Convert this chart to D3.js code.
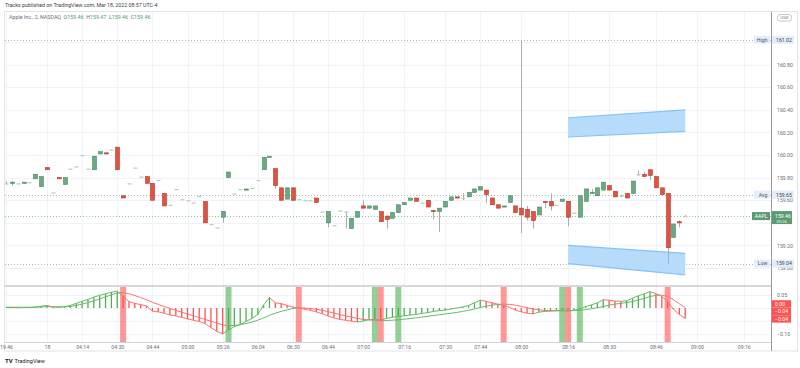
<!DOCTYPE html>
<html>
<head>
<meta charset="utf-8">
<script src="https://cdn.jsdelivr.net/npm/d3@7"></script>
<style>
body{margin:0;background:#fff;}
svg{display:block;font-family:Roboto,"Liberation Sans",sans-serif;}
.legend{white-space:pre;}
</style>
</head>
<body>
<script>
//candles, 2 minute bars, Mar 17 19:46 -> Mar 18 08:56
var opens  = [159.75,159.75,159.75,159.75,159.76,159.79,159.72,159.89,159.67,159.80,159.74,159.88,159.90,160.00,159.88,159.87,160.01,160.02,160.05,160.07,
              159.64,159.75,159.89,159.81,159.81,159.75,159.78,159.66,159.56,159.70,159.61,159.60,159.58,159.64,159.59,159.39,159.36,159.45,159.80,159.66,
              159.70,159.69,159.71,159.78,159.87,159.98,159.88,159.71,159.61,159.71,159.61,159.60,159.60,159.62,159.50,159.40,159.38,159.51,159.50,159.35,
              159.45,159.55,159.53,159.52,159.50,159.46,159.44,159.49,159.56,159.60,159.62,159.58,159.60,159.51,159.50,159.54,159.60,159.63,159.62,159.63,
              159.67,159.69,159.69,159.62,159.56,159.54,159.58,159.55,159.53,159.52,159.50,159.47,159.59,159.59,159.56,159.59,159.59,159.49,159.45,159.59,
              159.66,159.64,159.69,159.73,159.68,159.64,159.66,159.66,159.83,159.83,159.87,159.81,159.71,159.66,159.27,159.41,159.46];
var highs  = [159.77,159.77,159.75,159.76,159.76,159.83,159.81,159.89,159.67,159.80,159.80,159.88,159.90,160.00,159.88,159.99,160.03,160.02,160.05,160.07,
              159.64,159.75,159.89,159.81,159.81,159.75,159.78,159.66,159.56,159.70,159.61,159.60,159.58,159.64,159.59,159.39,159.36,159.50,159.85,159.66,
              159.70,159.70,159.71,159.78,159.98,159.99,159.88,159.71,159.71,159.71,159.61,159.60,159.60,159.62,159.50,159.50,159.38,159.51,159.50,159.44,
              159.50,159.60,159.55,159.55,159.50,159.46,159.49,159.56,159.58,159.62,159.62,159.58,159.60,159.51,159.53,159.59,159.63,159.63,159.66,159.67,
              159.70,159.72,159.69,159.62,159.56,159.55,159.64,159.55,161.02,159.55,159.50,159.54,159.59,159.66,159.56,159.61,159.59,159.49,159.64,159.70,
              159.70,159.71,159.76,159.73,159.68,159.65,159.66,159.77,159.86,159.85,159.87,159.81,159.71,159.66,159.39,159.42,159.47];
var lows   = [159.74,159.73,159.75,159.75,159.76,159.79,159.72,159.87,159.67,159.79,159.74,159.88,159.90,160.00,159.88,159.87,160.01,160.01,160.05,159.87,
              159.62,159.75,159.89,159.81,159.75,159.60,159.78,159.55,159.56,159.70,159.61,159.60,159.58,159.64,159.40,159.39,159.36,159.40,159.80,159.66,
              159.70,159.69,159.71,159.78,159.87,159.98,159.70,159.60,159.61,159.60,159.61,159.60,159.60,159.58,159.50,159.36,159.38,159.51,159.35,159.35,
              159.45,159.53,159.53,159.52,159.41,159.35,159.44,159.49,159.56,159.60,159.59,159.58,159.54,159.43,159.32,159.54,159.60,159.62,159.60,159.63,
              159.67,159.69,159.58,159.56,159.53,159.54,159.58,159.49,159.31,159.42,159.35,159.47,159.53,159.51,159.56,159.59,159.37,159.49,159.45,159.59,
              159.66,159.64,159.69,159.69,159.63,159.63,159.62,159.66,159.82,159.81,159.78,159.71,159.65,159.04,159.27,159.36,159.46];
var closes = [159.75,159.76,159.75,159.76,159.76,159.83,159.81,159.87,159.67,159.79,159.80,159.88,159.90,160.00,159.88,159.99,160.03,160.01,160.05,159.87,
              159.62,159.75,159.89,159.81,159.75,159.60,159.78,159.55,159.56,159.70,159.61,159.60,159.58,159.64,159.40,159.39,159.36,159.50,159.85,159.66,
              159.70,159.70,159.71,159.78,159.98,159.99,159.73,159.60,159.71,159.60,159.61,159.60,159.60,159.58,159.50,159.50,159.38,159.51,159.50,159.44,
              159.50,159.53,159.55,159.55,159.41,159.43,159.49,159.56,159.58,159.62,159.59,159.58,159.54,159.50,159.53,159.59,159.63,159.62,159.62,159.67,
              159.70,159.72,159.65,159.56,159.53,159.55,159.64,159.49,159.47,159.45,159.42,159.54,159.58,159.55,159.56,159.61,159.45,159.49,159.64,159.70,
              159.67,159.71,159.76,159.69,159.63,159.64,159.62,159.77,159.83,159.81,159.82,159.71,159.65,159.18,159.39,159.40,159.46];

//lower pane oscillator
var macd   = [0.002,0.002,0.001,0.002,0.002,0.004,0.007,0.010,0.004,0.003,0.005,0.010,0.018,0.026,0.033,0.042,0.049,0.055,0.061,0.065,
              0.045,0.025,0.018,0.013,0.008,-0.012,-0.015,-0.020,-0.027,-0.030,-0.036,-0.042,-0.047,-0.052,-0.060,-0.075,-0.090,-0.100,-0.085,-0.072,
              -0.064,-0.052,-0.040,-0.025,0.012,0.040,0.020,0.017,0.010,0.004,0.000,-0.005,-0.009,-0.015,-0.022,-0.031,-0.038,-0.044,-0.047,-0.051,
              -0.054,-0.050,-0.045,-0.044,-0.047,-0.040,-0.036,-0.032,-0.030,-0.027,-0.025,-0.021,-0.018,-0.013,-0.010,-0.008,-0.004,0.000,0.004,0.010,
              0.020,0.030,0.026,0.020,0.015,0.010,0.002,-0.008,-0.015,-0.020,-0.023,-0.016,-0.013,-0.012,-0.010,-0.008,-0.011,-0.009,-0.004,0.006,
              0.012,0.020,0.032,0.030,0.027,0.026,0.028,0.038,0.047,0.055,0.063,0.055,0.045,0.025,-0.005,-0.025,-0.040];
var signal = [0.003,0.003,0.003,0.003,0.003,0.003,0.004,0.005,0.005,0.005,0.005,0.006,0.010,0.015,0.021,0.028,0.035,0.043,0.051,0.058,
              0.060,0.055,0.048,0.040,0.032,0.022,0.014,0.006,-0.002,-0.009,-0.016,-0.023,-0.030,-0.037,-0.044,-0.051,-0.058,-0.065,-0.068,-0.067,
              -0.064,-0.060,-0.054,-0.047,-0.038,-0.028,-0.020,-0.013,-0.007,-0.002,0.001,0.000,-0.002,-0.005,-0.009,-0.014,-0.019,-0.025,-0.030,-0.035,
              -0.040,-0.044,-0.046,-0.047,-0.048,-0.048,-0.047,-0.045,-0.043,-0.041,-0.038,-0.035,-0.032,-0.029,-0.026,-0.023,-0.020,-0.017,-0.013,-0.009,
              -0.004,0.002,0.007,0.011,0.014,0.015,0.014,0.011,0.006,0.001,-0.004,-0.007,-0.009,-0.010,-0.011,-0.011,-0.011,-0.010,-0.009,-0.006,
              -0.003,0.001,0.006,0.011,0.015,0.018,0.021,0.025,0.031,0.037,0.044,0.049,0.050,0.044,0.032,0.016,0.002];

//signal bands in lower pane
var bandIdx  = [20, 38, 50, 63, 64, 67, 85, 95, 96, 98, 113];
var bandType = ["sell","buy","sell","buy","sell","buy","sell","buy","sell","buy","sell"];

//drawn channels (bar index -> price)
var chanIdx       = [96, 116];
var upperChanTop  = [160.33, 160.40];
var upperChanBot  = [160.16, 160.21];
var lowerChanTop  = [159.20, 159.13];
var lowerChanBot  = [159.04, 158.94];

//time axis
var tickIdx    = [0, 7, 13, 19, 25, 31, 37, 43, 49, 55, 61, 68, 75, 81, 88, 96, 103, 111, 118, 126];
var tickLabels = ["19:46","18","04:14","04:30","04:44","05:00","05:26","06:04","06:30","06:44","07:00","07:16","07:30","07:44","08:00","08:16","08:30","08:46","09:00","09:16"];

//price axis
var priceTicks = [159.00,159.20,159.40,159.60,159.80,160.00,160.20,160.40,160.60,160.80,161.00];
var oscTicks   = [-0.10,-0.05,0.00,0.05];
var levelNames  = ["High","Avg","Low"];
var levelValues = [161.02, 159.65, 159.04];
var lastPrice = 159.46;

drawChart();

function drawChart(){

    var width = 800,
        height = 368,
        left = 5,
        right = 771;

    var green = "#6aa983", greenDark = "#4a8a62",
        red = "#dd5344", redDark = "#b9392b",
        gridCol = "#f0f3fa", txt = "#6a6d78",
        fs = 5.2;

    var svg = d3.select("body")
        .append("svg")
        .attr("width", width)
        .attr("height", height);

    //scales
    var x = d3.scaleLinear().domain([0, 116]).range([6, 685.2]);
    var y = d3.scaleLinear().domain([158.85, 161.266]).range([285, 12]);
    var yM = d3.scaleLinear().domain([-0.131, 0.081]).range([342, 287]);
    var fmt = d3.format(".2f");

    //clips (in the local space of the group that uses them)
    var defs = svg.append("defs");
    defs.append("clipPath").attr("id", "mainClip")
        .append("rect").attr("x", left).attr("y", 12).attr("width", right - left).attr("height", 273);
    defs.append("clipPath").attr("id", "oscClip")
        .append("rect").attr("x", left).attr("y", 287).attr("width", right - left).attr("height", 55);
    defs.append("clipPath").attr("id", "axisClip")
        .append("rect").attr("x", 0).attr("y", 0).attr("width", right).attr("height", 9);

    //header
    svg.append("text")
        .attr("x", 5).attr("y", 7)
        .attr("font-size", 5.3).attr("fill", "#3b3e45")
        .text("Tracks published on TradingView.com, Mar 18, 2022 08:57 UTC-4");

    //frame
    svg.append("rect")
        .attr("x", 4.5).attr("y", 11.5).attr("width", 793).attr("height", 339.5)
        .attr("fill", "none").attr("stroke", "#e0e3eb");

    //grid
    var grid = svg.append("g");
    grid.selectAll(".vgrid")
        .data(tickIdx)
        .enter()
        .append("line")
        .attr("x1", function(d){ return Math.round(x(d)) + 0.5; })
        .attr("x2", function(d){ return Math.round(x(d)) + 0.5; })
        .attr("y1", 12).attr("y2", 342)
        .attr("stroke", gridCol);
    grid.selectAll(".hgrid")
        .data(priceTicks)
        .enter()
        .append("line")
        .attr("x1", left).attr("x2", right)
        .attr("y1", function(d){ return Math.round(y(d)) + 0.5; })
        .attr("y2", function(d){ return Math.round(y(d)) + 0.5; })
        .attr("stroke", gridCol);
    grid.selectAll(".ogrid")
        .data(oscTicks)
        .enter()
        .append("line")
        .attr("x1", left).attr("x2", right)
        .attr("y1", function(d){ return Math.round(yM(d)) + 0.5; })
        .attr("y2", function(d){ return Math.round(yM(d)) + 0.5; })
        .attr("stroke", gridCol);

    //legend
    var legend = svg.append("text")
        .attr("class", "legend")
        .attr("x", 9).attr("y", 19)
        .attr("font-size", 5.3).attr("fill", "#6a6d78");
    legend.append("tspan").text("Apple Inc., 2, NASDAQ  ");
    var ohlc = [["O", opens[116]], ["H", highs[116]], ["L", lows[116]], ["C", closes[116]]];
    ohlc.forEach(function(d){
        legend.append("tspan").text(d[0]);
        legend.append("tspan").attr("fill", "#4f9a6a").text(fmt(d[1]) + "  ");
    });

    //main pane
    var main = svg.append("g").attr("clip-path", "url(#mainClip)");

    //level lines (high / avg / low)
    main.selectAll(".level")
        .data(levelValues)
        .enter()
        .append("line")
        .attr("x1", left).attr("x2", right)
        .attr("y1", function(d){ return Math.round(y(d)) + 0.5; })
        .attr("y2", function(d){ return Math.round(y(d)) + 0.5; })
        .attr("stroke", "#b2b5be")
        .attr("stroke-dasharray", "1,2");

    //last price line
    main.append("line")
        .attr("x1", left).attr("x2", right)
        .attr("y1", Math.round(y(lastPrice)) + 0.5)
        .attr("y2", Math.round(y(lastPrice)) + 0.5)
        .attr("stroke", "#8fc4a3")
        .attr("stroke-dasharray", "1,2");

    //channels
    var chans = [[upperChanTop, upperChanBot], [lowerChanTop, lowerChanBot]];
    chans.forEach(function(c){
        var pts = [[x(chanIdx[0]), y(c[0][0])], [x(chanIdx[1]), y(c[0][1])],
                   [x(chanIdx[1]), y(c[1][1])], [x(chanIdx[0]), y(c[1][0])]];
        main.append("polygon")
            .attr("points", pts.map(function(p){ return p.join(","); }).join(" "))
            .attr("fill", "#b6dbfb")
            .attr("stroke", "none");
        [0, 1].forEach(function(k){
            main.append("line")
                .attr("x1", x(chanIdx[0])).attr("y1", y(c[k][0]))
                .attr("x2", x(chanIdx[1])).attr("y2", y(c[k][1]))
                .attr("stroke", "#86c2f5").attr("stroke-width", 1.2);
        });
    });

    //candles
    var bars = d3.range(opens.length);
    main.selectAll(".wick")
        .data(bars)
        .enter()
        .append("line")
        .attr("x1", function(i){ return Math.round(x(i)) + 0.5; })
        .attr("x2", function(i){ return Math.round(x(i)) + 0.5; })
        .attr("y1", function(i){ return y(highs[i]); })
        .attr("y2", function(i){ return y(lows[i]); })
        .attr("stroke", "#a9acb3");

    main.selectAll(".body")
        .data(bars)
        .enter()
        .append("rect")
        .attr("x", function(i){ return Math.round(x(i)) - 1.5; })
        .attr("width", 4)
        .attr("y", function(i){ return y(Math.max(opens[i], closes[i])); })
        .attr("height", function(i){ return Math.max(1.2, Math.abs(y(opens[i]) - y(closes[i]))); })
        .attr("fill", function(i){
            if (opens[i] === closes[i]) return "#b7cdbf";
            return closes[i] > opens[i] ? green : red;
        })
        .attr("stroke", function(i){
            if (opens[i] === closes[i]) return "none";
            return closes[i] > opens[i] ? greenDark : redDark;
        })
        .attr("stroke-width", 0.6);

    //pane separators
    svg.append("line")
        .attr("x1", left).attr("x2", right).attr("y1", 286).attr("y2", 286)
        .attr("stroke", "#c9cbd1").attr("stroke-width", 1.5);
    svg.append("line")
        .attr("x1", left).attr("x2", right).attr("y1", 342.5).attr("y2", 342.5)
        .attr("stroke", "#d1d4dc");

    //oscillator pane
    var osc = svg.append("g").attr("clip-path", "url(#oscClip)");

    osc.selectAll(".band")
        .data(bandIdx)
        .enter()
        .append("rect")
        .attr("x", function(d){ return x(d) - 3; })
        .attr("width", 6)
        .attr("y", 287).attr("height", 55)
        .attr("fill", function(d, i){ return bandType[i] === "buy" ? "rgba(76,175,80,0.6)" : "rgba(255,82,82,0.6)"; });

    osc.selectAll(".hist")
        .data(bars)
        .enter()
        .append("line")
        .attr("x1", function(i){ return x(i); })
        .attr("x2", function(i){ return x(i); })
        .attr("y1", yM(0))
        .attr("y2", function(i){ return yM(macd[i]); })
        .attr("stroke", function(i){ return (i === 0 || macd[i] >= macd[i - 1]) ? "#4caf50" : "#ff5252"; })
        .attr("stroke-width", 1.3);

    [macd, signal].forEach(function(s){
        osc.selectAll(null)
            .data(bars.slice(1))
            .enter()
            .append("line")
            .attr("x1", function(i){ return x(i - 1); })
            .attr("y1", function(i){ return yM(s[i - 1]); })
            .attr("x2", function(i){ return x(i); })
            .attr("y2", function(i){ return yM(s[i]); })
            .attr("stroke", function(i){ return s[i] >= s[i - 1] ? "#66bb6a" : "#ff7070"; })
            .attr("stroke-width", 1);
    });

    //time axis
    var xAxis = d3.axisBottom(x)
        .tickValues(tickIdx)
        .tickFormat(function(d, i){ return tickLabels[i]; })
        .tickSize(0)
        .tickPadding(3);
    var gx = svg.append("g")
        .attr("transform", "translate(0,342)")
        .attr("clip-path", "url(#axisClip)")
        .call(xAxis);
    gx.select(".domain").remove();
    gx.selectAll("text").attr("font-size", fs).attr("fill", txt).attr("font-family", "Roboto, sans-serif");

    //right price axis
    svg.append("line")
        .attr("x1", right + 0.5).attr("x2", right + 0.5).attr("y1", 12).attr("y2", 351)
        .attr("stroke", "#9598a1");

    //badge boxes on the scale, used to hide tick labels that sit under them
    var covers = [];
    levelValues.forEach(function(v){ covers.push([y(v) - 4, y(v) + 4]); });
    covers.push([y(lastPrice) - 6, y(lastPrice) + 9]);

    var yAxis = d3.axisRight(y)
        .tickValues(priceTicks.filter(function(t){
            var ty = y(t);
            return !covers.some(function(c){ return ty >= c[0] && ty <= c[1]; });
        }))
        .tickFormat(fmt)
        .tickSize(0)
        .tickPadding(6);
    var gy = svg.append("g")
        .attr("transform", "translate(" + right + ",0)")
        .call(yAxis);
    gy.select(".domain").remove();
    gy.selectAll("text").attr("font-size", fs).attr("fill", txt).attr("font-family", "Roboto, sans-serif");

    //oscillator last value badges, stacked upward from the lowest
    var last = opens.length - 1;
    var oscLast = [signal[last], macd[last] - signal[last], macd[last]];
    var ys = oscLast.map(function(v){ return yM(v); });
    var order = d3.range(ys.length).sort(function(a, b){ return ys[b] - ys[a]; });
    var prev = null;
    var oscPos = [];
    order.forEach(function(k){
        var cy = ys[k];
        if (prev !== null && prev - cy < 7.5) cy = prev - 7.5;
        prev = cy;
        oscPos.push([k, cy]);
    });

    var mAxis = d3.axisRight(yM)
        .tickValues(oscTicks.filter(function(t){
            var ty = yM(t);
            return !oscPos.some(function(p){ return Math.abs(ty - p[1]) <= 4; });
        }))
        .tickFormat(fmt)
        .tickSize(0)
        .tickPadding(6);
    var gm = svg.append("g")
        .attr("transform", "translate(" + right + ",0)")
        .call(mAxis);
    gm.select(".domain").remove();
    gm.selectAll("text").attr("font-size", fs).attr("fill", txt).attr("font-family", "Roboto, sans-serif");

    oscPos.forEach(function(p){
        svg.append("rect")
            .attr("x", 772).attr("y", p[1] - 3.7).attr("width", 19).attr("height", 7.4)
            .attr("fill", "#ff5252");
        svg.append("text")
            .attr("x", 775).attr("y", p[1] + 1.9)
            .attr("font-size", fs).attr("fill", "#fff").text(fmt(oscLast[p[0]]));
    });

    //USD tag
    svg.append("rect")
        .attr("x", 777.5).attr("y", 14.5).attr("width", 14).attr("height", 6.5).attr("rx", 2.5)
        .attr("fill", "#fff").attr("stroke", "#c9cbd1");
    svg.append("text")
        .attr("x", 784.5).attr("y", 19.3).attr("text-anchor", "middle")
        .attr("font-size", 4.3).attr("fill", txt).text("USD");

    //level badges
    levelValues.forEach(function(v, i){
        var cy = y(v);
        svg.append("rect")
            .attr("x", 754).attr("y", cy - 4).attr("width", 16).attr("height", 8)
            .attr("fill", "#e3eefc");
        svg.append("text")
            .attr("x", 767.5).attr("y", cy + 1.9).attr("text-anchor", "end")
            .attr("font-size", fs).attr("fill", "#555").text(levelNames[i]);
        svg.append("rect")
            .attr("x", 772).attr("y", cy - 4).attr("width", 22).attr("height", 8)
            .attr("fill", "#e3eefc");
        svg.append("text")
            .attr("x", 776).attr("y", cy + 1.9)
            .attr("font-size", fs).attr("fill", "#444").text(fmt(v));
    });

    //last price badge
    var py = y(lastPrice);
    svg.append("rect")
        .attr("x", 752).attr("y", py - 4).attr("width", 18).attr("height", 8)
        .attr("fill", "#5a9c70");
    svg.append("text")
        .attr("x", 767.5).attr("y", py + 1.9).attr("text-anchor", "end")
        .attr("font-size", fs).attr("fill", "#fff").text("AAPL");
    svg.append("rect")
        .attr("x", 772).attr("y", py - 5).attr("width", 20).attr("height", 13)
        .attr("fill", "#5a9c70");
    svg.append("text")
        .attr("x", 775).attr("y", py + 1.9)
        .attr("font-size", fs).attr("fill", "#fff").text(fmt(lastPrice));
    svg.append("text")
        .attr("x", 776.5).attr("y", py + 6.9)
        .attr("font-size", 4.3).attr("fill", "#e6f2ea").text("00:36");

    //watermark
    svg.append("text")
        .attr("x", 5).attr("y", 363)
        .attr("font-size", 6).attr("font-weight", "bold").attr("fill", "#131722")
        .text("TV");
    svg.append("text")
        .attr("x", 14.5).attr("y", 363)
        .attr("font-size", 5.5).attr("fill", "#131722")
        .text("TradingView");
}
</script>
</body>
</html>
